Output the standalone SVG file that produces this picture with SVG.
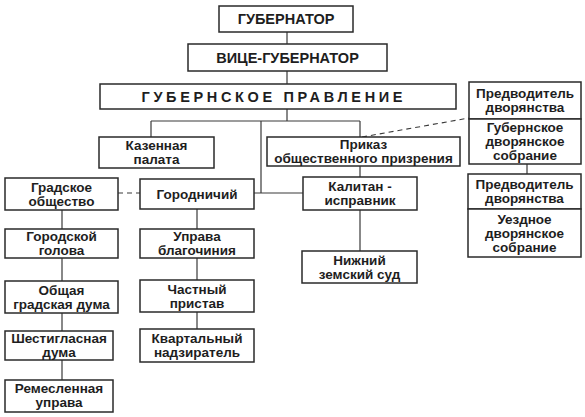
<svg xmlns="http://www.w3.org/2000/svg" width="585" height="417" viewBox="0 0 585 417">
<style>
.b{fill:#fff;stroke:#2a2a2a;stroke-width:1.5}
.t{font-family:"Liberation Sans",Arial,sans-serif;font-size:13.5px;font-weight:bold;fill:#1e1e1e;text-anchor:middle}
.h{font-size:14.5px}
.c{fill:none;stroke:#3a3a3a;stroke-width:1.2}
.d{fill:none;stroke:#3a3a3a;stroke-width:1.1;stroke-dasharray:5,4}
</style>
<rect width="585" height="417" fill="#fff"/>
<g id="connectors">
<path class="c" d="M287 32V44M287 71V84M287 109V121M151 121H360M151 121V137M360 121V137M261 121V193M254 193H303M360 166V177M360 210V251M527 164V174"/>
<path class="c" d="M62 210V229M62 258V281M62 313V331M62 360V380M197 209V229M197 258V280M197 312V329"/>
<path class="d" d="M362 137L469 118M118 193H140"/>
</g>
<g id="gubernator"><rect class="b" x="219" y="6" width="134" height="26"/><text class="t h" x="286" y="24">ГУБЕРНАТОР</text></g>
<g id="vice"><rect class="b" x="188" y="44" width="199" height="27"/><text class="t h" x="287.5" y="62.5">ВИЦЕ-ГУБЕРНАТОР</text></g>
<g id="pravlenie"><rect class="b" x="100" y="84" width="356" height="25"/><text class="t h" x="272" y="101.5" textLength="261" lengthAdjust="spacing">ГУБЕРНСКОЕ ПРАВЛЕНИЕ</text></g>
<g id="kazennaya"><rect class="b" x="99" y="137" width="115" height="31"/><text class="t" x="156.5" y="150">Казенная</text><text class="t" x="156.5" y="164">палата</text></g>
<g id="prikaz"><rect class="b" x="267" y="137" width="193" height="29"/><text class="t" x="363.5" y="149">Приказ</text><text class="t" x="363.5" y="163">общественного призрения</text></g>
<g id="predv1"><rect class="b" x="469" y="82" width="112" height="37"/><text class="t" x="525" y="98">Предводитель</text><text class="t" x="525" y="112">дворянства</text></g>
<g id="gubsobr"><rect class="b" x="469" y="119" width="112" height="45"/><text class="t" x="525" y="132">Губернское</text><text class="t" x="525" y="146">дворянское</text><text class="t" x="525" y="160">собрание</text></g>
<g id="predv2"><rect class="b" x="468" y="174" width="113" height="35"/><text class="t" x="524.5" y="189">Предводитель</text><text class="t" x="524.5" y="203">дворянства</text></g>
<g id="uezd"><rect class="b" x="468" y="209" width="113" height="48"/><text class="t" x="524.5" y="223.5">Уездное</text><text class="t" x="524.5" y="237.5">дворянское</text><text class="t" x="524.5" y="251.5">собрание</text></g>
<g id="gradskoe"><rect class="b" x="5" y="178" width="113" height="32"/><text class="t" x="61.5" y="191.5">Градское</text><text class="t" x="61.5" y="205.5">общество</text></g>
<g id="gorodnichiy"><rect class="b" x="140" y="179" width="114" height="30"/><text class="t" x="197" y="198.5">Городничий</text></g>
<g id="kapitan"><rect class="b" x="303" y="177" width="114" height="33"/><text class="t" x="360" y="191">Калитан -</text><text class="t" x="360" y="205">исправник</text></g>
<g id="nizhniy"><rect class="b" x="302" y="251" width="115" height="32"/><text class="t" x="359.5" y="264.5">Нижний</text><text class="t" x="359.5" y="278.5">земский суд</text></g>
<g id="golova"><rect class="b" x="5" y="229" width="113" height="29"/><text class="t" x="61.5" y="241">Городской</text><text class="t" x="61.5" y="255">голова</text></g>
<g id="uprava"><rect class="b" x="140" y="229" width="114" height="29"/><text class="t" x="197" y="241">Управа</text><text class="t" x="197" y="255">благочиния</text></g>
<g id="obshaya"><rect class="b" x="5" y="281" width="113" height="32"/><text class="t" x="61.5" y="294.5">Общая</text><text class="t" x="61.5" y="308.5">градская дума</text></g>
<g id="chastny"><rect class="b" x="140" y="280" width="114" height="32"/><text class="t" x="197" y="293.5">Частный</text><text class="t" x="197" y="307.5">пристав</text></g>
<g id="shestiglasnaya"><rect class="b" x="5" y="331" width="108" height="29"/><text class="t" x="59" y="343">Шестигласная</text><text class="t" x="59" y="357">дума</text></g>
<g id="kvartalny"><rect class="b" x="140" y="329" width="114" height="33"/><text class="t" x="197" y="343">Квартальный</text><text class="t" x="197" y="357">надзиратель</text></g>
<g id="remeslennaya"><rect class="b" x="5" y="380" width="108" height="32"/><text class="t" x="59" y="393">Ремесленная</text><text class="t" x="59" y="407">управа</text></g>
</svg>
